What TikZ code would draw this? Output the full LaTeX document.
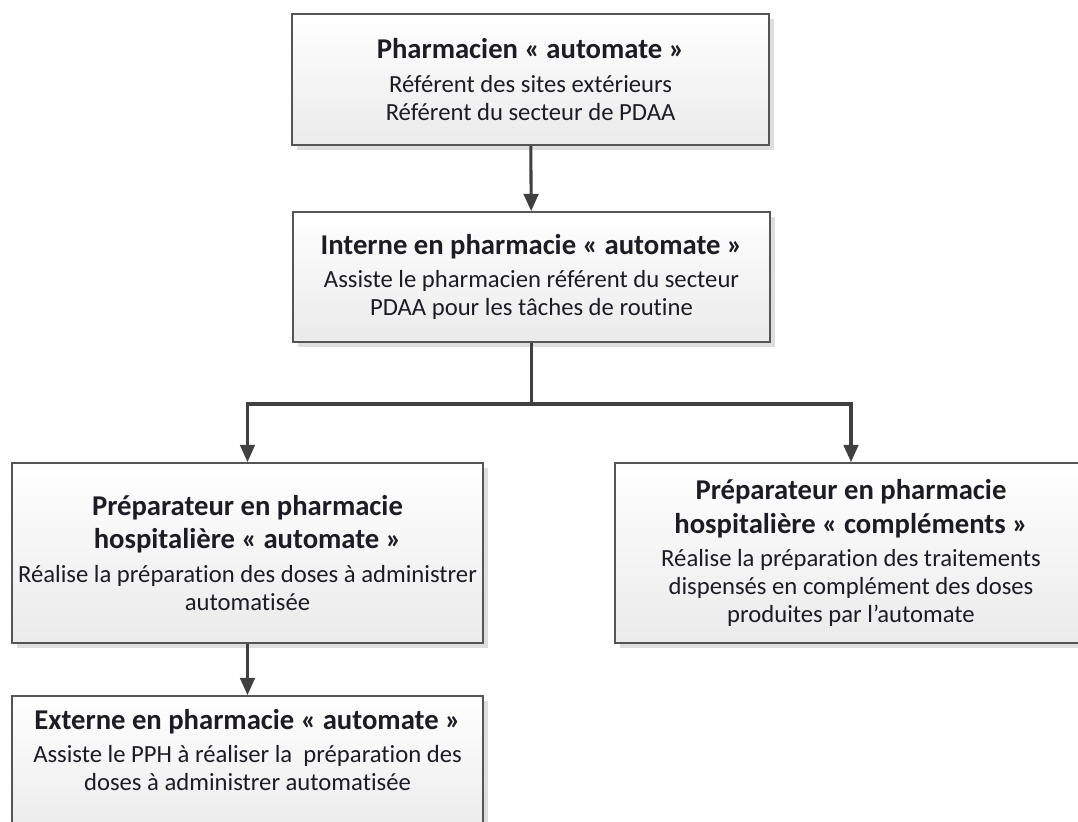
\documentclass[tikz,border=0pt]{standalone}
\usepackage{fontspec}
\setmainfont{Carlito}[Ligatures=NoCommon]
\usetikzlibrary{arrows.meta,shadows}

\definecolor{boxline}{HTML}{555555}
\definecolor{linkline}{HTML}{404040}
\definecolor{boxtext}{HTML}{1C1C24}

\newcommand{\roletitle}[1]{{\fontsize{21.5}{25}\selectfont\bfseries #1}}

\begin{document}
\begin{tikzpicture}[x=0.75pt, y=-0.75pt, line join=miter,
    rolebox/.style={draw=boxline, line width=1.3pt, top color=white, bottom color=black!8,
        drop shadow={shadow xshift=3.5pt, shadow yshift=-3.5pt, fill=black!13, opacity=1},
        align=center, text=boxtext, inner sep=2pt,
        font=\fontsize{18.5}{21}\selectfont},
    link/.style={draw=linkline, line width=2.3pt, -{Triangle[width=11pt,length=13pt]}},
    stem/.style={draw=linkline, line width=2.3pt}]

                \useasboundingbox (0,0) rectangle (1078,821);

                \node (pharm) [rolebox, minimum width=357.75pt, minimum height=98.25pt] at (530.5,79.5)
                    {\roletitle{Pharmacien « automate »}\\[4pt]
                     Référent des sites extérieurs\\
                     Référent du secteur de PDAA};

                \node (interne) [rolebox, minimum width=357.75pt, minimum height=97.5pt] at (531.5,277)
                    {\roletitle{Interne en pharmacie « automate »}\\[4pt]
                     Assiste le pharmacien référent du secteur\\
                     PDAA pour les tâches de routine};

                \node (prep) [rolebox, minimum width=353.25pt, minimum height=135pt] at (247.5,553)
                    {\roletitle{Préparateur en pharmacie}\\[4pt]
                     \roletitle{hospitalière « automate »}\\[4pt]
                     Réalise la préparation des doses à administrer\\
                     automatisée};

                \node (compl) [rolebox, minimum width=354pt, minimum height=135pt] at (851,553)
                    {\roletitle{Préparateur en pharmacie}\\[4pt]
                     \roletitle{hospitalière « compléments »}\\[4pt]
                     Réalise la préparation des traitements\\
                     dispensés en complément des doses\\
                     produites par l’automate};

                \node (externe) [rolebox, minimum width=353.25pt, minimum height=105pt, text depth=24pt] at (247.5,766)
                    {\roletitle{Externe en pharmacie « automate »}\\[4pt]
                     Assiste le PPH à réaliser la~ préparation des\\
                     doses à administrer automatisée};

                \coordinate (split) at (531.5,404);

                \draw[link] (pharm) -- (interne);
                \draw[stem] (interne) -- (split);
                \draw[link] (split) -| (prep);
                \draw[link] (split) -| (compl);
                \draw[link] (prep) -- (externe);

\end{tikzpicture}
\end{document}
